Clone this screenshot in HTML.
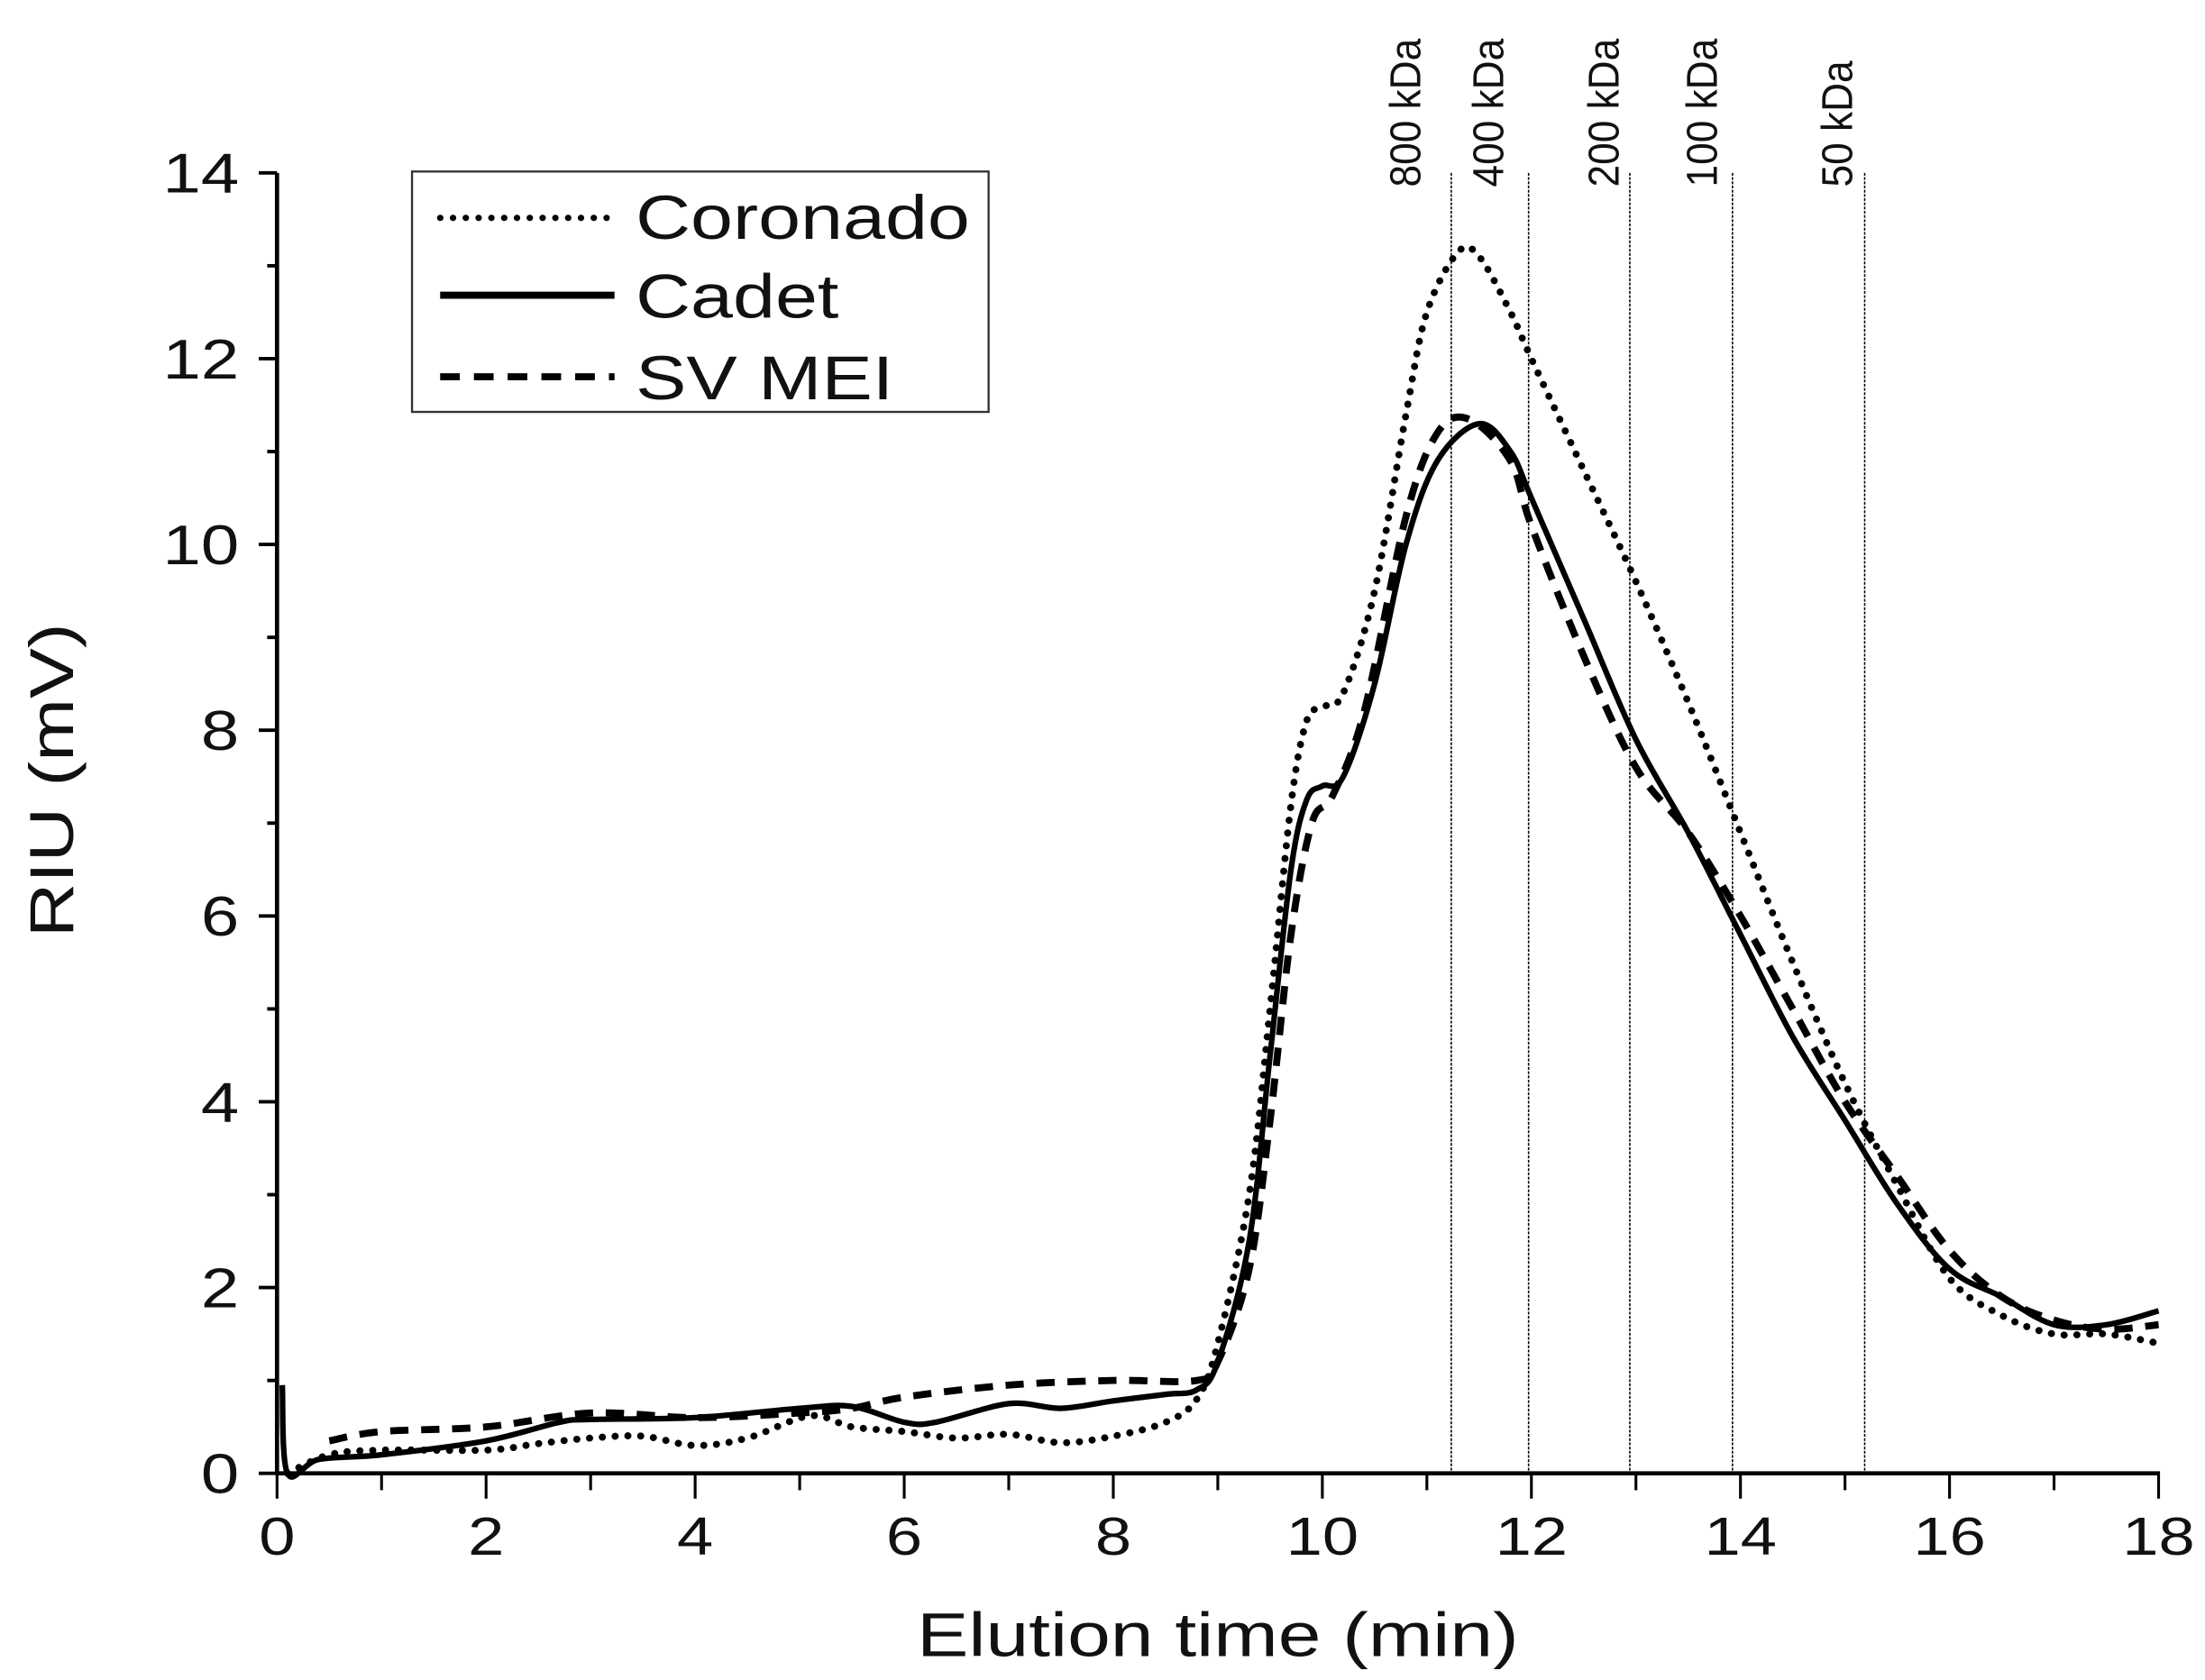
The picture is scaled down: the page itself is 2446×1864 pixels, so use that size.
<!DOCTYPE html>
<html><head><meta charset="utf-8"><style>html,body{margin:0;padding:0;background:#fff}svg{display:block}</style></head>
<body>
<svg id="s" width="2446" height="1864" viewBox="0 0 1568 1195" preserveAspectRatio="none" xmlns="http://www.w3.org/2000/svg" font-family="Liberation Sans, sans-serif">
<rect width="1568" height="1195" fill="#fff"/>
<g id="ax" stroke="#000" fill="none"></g>
<g id="curves" fill="none" stroke="#000" stroke-linejoin="round"></g>
<g font-size="40" fill="#111" text-anchor="end" id="ylab"></g>
<g font-size="38" fill="#111" text-anchor="middle" id="xlab"></g>
<text transform="translate(866,1178) scale(1.25,1)" font-size="44" text-anchor="middle" fill="#111">Elution time (min)</text>
<text transform="translate(52,555) rotate(-90) scale(1.22,1)" font-size="44" text-anchor="middle" fill="#111">RIU (mV)</text>
<g font-size="27" fill="#111" id="kda"></g>
<rect x="293" y="122" width="410" height="171" fill="none" stroke="#333" stroke-width="1.5"/>
<line x1="313" y1="155" x2="437" y2="155" stroke="#000" stroke-width="4.5" stroke-dasharray="0.1 9" stroke-linecap="round"/>
<line x1="313" y1="210" x2="437" y2="210" stroke="#000" stroke-width="5"/>
<line x1="313" y1="268" x2="437" y2="268" stroke="#000" stroke-width="5" stroke-dasharray="14 10"/>
<text transform="translate(452,170) scale(1.23,1)" font-size="44" fill="#111">Coronado</text>
<text transform="translate(452,226) scale(1.23,1)" font-size="44" fill="#111">Cadet</text>
<text transform="translate(452,284) scale(1.23,1)" font-size="44" fill="#111">SV MEI</text>
</svg>
<script>
const NS="http://www.w3.org/2000/svg";
const X=t=>197+t*(1338/18), Y=v=>1048-v*(925/14);
function el(p,tag,a,txt){const e=document.createElementNS(NS,tag);for(const k in a)e.setAttribute(k,a[k]);if(txt!==undefined)e.textContent=txt;p.appendChild(e);return e;}
const ax=document.getElementById('ax');
el(ax,'line',{x1:197,y1:123,x2:197,y2:1049,'stroke-width':3});
el(ax,'line',{x1:196,y1:1048,x2:1536,y2:1048,'stroke-width':3});
const yl=document.getElementById('ylab'),xl=document.getElementById('xlab');
for(let v=0;v<=14;v++){const major=v%2==0;el(ax,'line',{x1:major?184:190,y1:Y(v),x2:197,y2:Y(v),'stroke-width':2.5});if(major)el(yl,'text',{transform:`translate(170,${Y(v)+14}) scale(1.22,1)`},String(v));}
for(let t=0;t<=18;t++){const major=t%2==0;el(ax,'line',{x1:X(t),y1:1048,x2:X(t),y2:major?1066:1060,'stroke-width':2});if(major)el(xl,'text',{transform:`translate(${X(t)},1106) scale(1.22,1)`},String(t));}
const kd=document.getElementById('kda');
[[1032,'800 kDa',999],[1087,'400 kDa',1058],[1159,'200 kDa',1140],[1232,'100 kDa',1210],[1326,'50 kDa',1306]].forEach(([x,l,lx])=>{
el(ax,'line',{x1:x,y1:123,x2:x,y2:1048,'stroke-width':1,'stroke-dasharray':'2 1'});
el(kd,'text',{transform:`translate(${lx+11},133) rotate(-90) scale(1.05,1.15)`},l);});
function path(pts){const P=pts.map(([t,v])=>[X(t),Y(v)]);let d=`M${P[0][0]},${P[0][1]}`;
for(let i=0;i<P.length-1;i++){const p0=P[i-1]||P[i],p1=P[i],p2=P[i+1],p3=P[i+2]||P[i+1];
d+=` C${p1[0]+(p2[0]-p0[0])/6},${p1[1]+(p2[1]-p0[1])/6} ${p2[0]-(p3[0]-p1[0])/6},${p2[1]-(p3[1]-p1[1])/6} ${p2[0]},${p2[1]}`;}return d;}
const cor=[[0.1,0],[0.5,0.2],[1,0.25],[2,0.25],[2.5,0.32],[3,0.38],[3.5,0.4],[4,0.3],[4.5,0.38],[5.1,0.62],[5.5,0.5],[6,0.45],[6.5,0.38],[7,0.42],[7.5,0.33],[8,0.4],[8.5,0.55],[8.8,0.8],[9,1.4],[9.3,3],[9.5,5],[9.7,7.2],[9.85,8.1],[10,8.25],[10.2,8.4],[10.5,9.5],[10.8,11.4],[11.0,12.5],[11.3,13.15],[11.5,13.1],[11.8,12.5],[12,12.0],[12.5,10.8],[13,9.6],[13.5,8.3],[14,6.9],[14.5,5.5],[15,4.2],[15.5,3.1],[16,2.1],[16.5,1.7],[17,1.5],[17.5,1.5],[18,1.4]];
const cad=[[0.05,0.95],[0.1,0],[0.4,0.15],[1,0.2],[2,0.35],[2.7,0.55],[3,0.58],[4,0.6],[5,0.7],[5.5,0.72],[6,0.55],[6.3,0.55],[7,0.75],[7.5,0.7],[8,0.78],[8.5,0.85],[8.8,0.9],[9,1.2],[9.3,2.5],[9.5,4.5],[9.7,6.5],[9.85,7.25],[10,7.4],[10.2,7.5],[10.5,8.5],[10.8,10],[11.1,10.9],[11.5,11.3],[11.8,11.0],[12,10.5],[12.5,9.2],[13,7.9],[13.5,6.9],[14,5.8],[14.5,4.7],[15,3.8],[15.5,2.9],[16,2.2],[16.5,1.9],[17,1.6],[17.5,1.6],[18,1.75]];
const sv=[[0.5,0.35],[1,0.45],[2,0.5],[3,0.65],[4,0.6],[5,0.65],[5.5,0.7],[6,0.82],[7,0.95],[8,1.0],[8.8,1.0],[9,1.2],[9.3,2.2],[9.5,3.8],[9.7,5.8],[9.9,7],[10.1,7.3],[10.4,8.2],[10.8,10.3],[11.1,11.2],[11.4,11.35],[11.8,10.9],[12,10.2],[12.5,8.8],[13,7.6],[13.5,6.9],[14,6.0],[14.5,5.0],[15,4.0],[15.5,3.2],[16,2.4],[16.5,1.9],[17,1.65],[17.5,1.55],[18,1.6]];
const g=document.getElementById('curves');
el(g,'path',{d:path(cor),'stroke-width':5,'stroke-dasharray':'0.1 9','stroke-linecap':'round'});
el(g,'path',{d:path(sv),'stroke-width':5,'stroke-dasharray':'13 9'});
el(g,'path',{d:path(cad),'stroke-width':4});
</script>
</body></html>
